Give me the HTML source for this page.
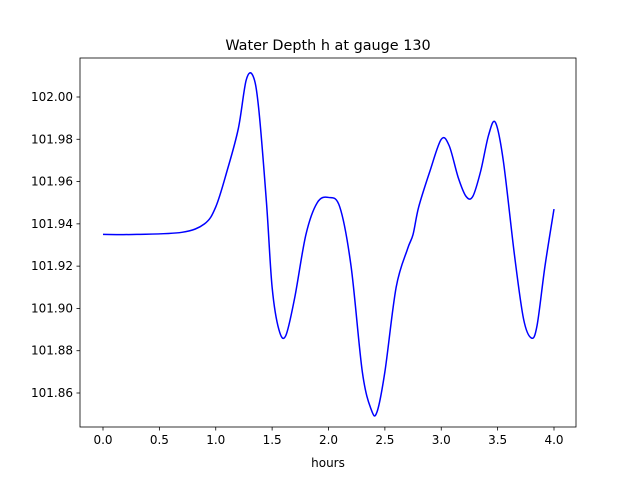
<!DOCTYPE html>
<html><head><meta charset="utf-8"><style>
body{margin:0;background:#fff;font-family:"Liberation Sans","DejaVu Sans",sans-serif;}
text{font-family:"DejaVu Sans","Liberation Sans",sans-serif;font-size:12px;fill:#000;}
</style></head><body>
<svg id="chart" width="640" height="480" xmlns="http://www.w3.org/2000/svg">
<rect width="640" height="480" fill="#fff"/>
<text x="328" y="50" text-anchor="middle" style="font-size:14.4px">Water Depth h at gauge 130</text>
<g id="axes"></g>
<text x="328" y="467" text-anchor="middle">hours</text>
</svg>
<script>
const xs=[0,0.3,0.7,0.9,1.0,1.1,1.2,1.27,1.33,1.38,1.45,1.5,1.56,1.62,1.7,1.8,1.9,2.0,2.1,2.2,2.3,2.38,2.43,2.5,2.6,2.7,2.75,2.8,2.9,3.0,3.07,3.15,3.22,3.28,3.35,3.42,3.48,3.55,3.65,3.73,3.8,3.85,3.92,4.0];
const ys=[101.935,101.935,101.936,101.940,101.948,101.965,101.985,102.008,102.010,101.995,101.95,101.91,101.89,101.887,101.905,101.935,101.950,101.9525,101.948,101.92,101.87,101.852,101.851,101.87,101.91,101.928,101.935,101.948,101.965,101.98,101.977,101.962,101.953,101.953,101.965,101.982,101.988,101.97,101.925,101.895,101.886,101.892,101.92,101.947];
const xTicks=[0,0.5,1,1.5,2,2.5,3,3.5,4];
const xTickLabels=["0.0","0.5","1.0","1.5","2.0","2.5","3.0","3.5","4.0"];
const yTicks=[101.86,101.88,101.90,101.92,101.94,101.96,101.98,102.00];
const yTickLabels=["101.86","101.88","101.90","101.92","101.94","101.96","101.98","102.00"];
const L=80,R=576,T=58,B=427;
const X=v=>103+(v-0)*(554-103)/4;
const Y=v=>393-(v-101.86)*(393-97)/0.14;
const NS="http://www.w3.org/2000/svg";
const g=document.getElementById('axes');
function mk(t,a){const e=document.createElementNS(NS,t);for(const k in a)e.setAttribute(k,a[k]);g.appendChild(e);return e;}
xTicks.forEach((v,i)=>{
 const l=mk('line',{x1:X(v),x2:X(v),y1:B,y2:B+3.5,stroke:'#000','stroke-width':0.8});
 
 
 const t=mk('text',{x:X(v),y:B+17,'text-anchor':'middle'});t.textContent=xTickLabels[i];
 
 
});
yTicks.forEach((v,i)=>{
 const l=mk('line',{x1:L-3.5,x2:L,y1:Y(v),y2:Y(v),stroke:'#000','stroke-width':0.8});
 
 
 const t=mk('text',{x:L-7,y:Y(v)+4,'text-anchor':'end'});t.textContent=yTickLabels[i];
 
 
});
const P=xs.map((x,i)=>[X(x),Y(ys[i])]);
let d='M'+P[0][0]+','+P[0][1];
for(let i=0;i<P.length-1;i++){
 const p0=P[Math.max(0,i-1)],p1=P[i],p2=P[i+1],p3=P[Math.min(P.length-1,i+2)];
 const c1=[p1[0]+(p2[0]-p0[0])/6,p1[1]+(p2[1]-p0[1])/6];
 const c2=[p2[0]-(p3[0]-p1[0])/6,p2[1]-(p3[1]-p1[1])/6];
 d+=`C${c1[0]},${c1[1]} ${c2[0]},${c2[1]} ${p2[0]},${p2[1]}`;
}
const line=mk('path',{d:d,fill:'none',stroke:'#0000ff','stroke-width':1.5});


const fr=mk('rect',{x:L,y:T,width:R-L,height:B-T,fill:'none',stroke:'#000','stroke-width':0.8});


</script>
</body></html>
